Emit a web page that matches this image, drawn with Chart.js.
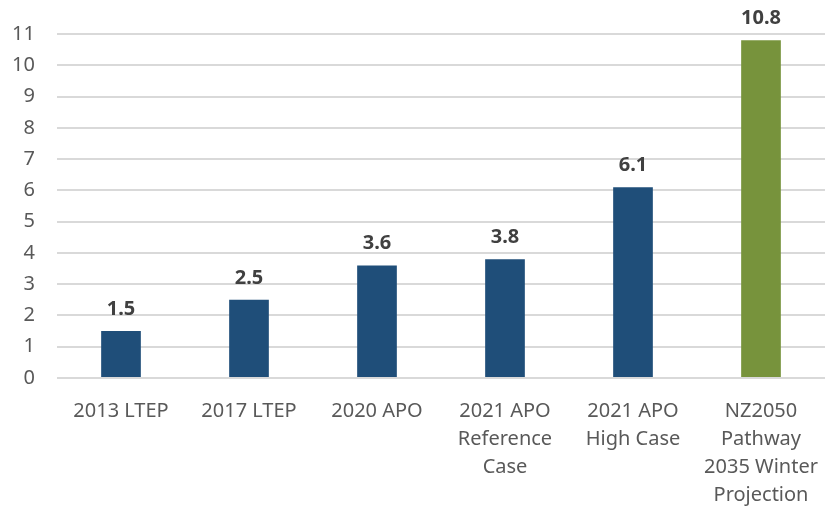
<!DOCTYPE html>
<html>
<head>
<meta charset="utf-8">
<script src="https://cdn.jsdelivr.net/npm/chart.js@4"></script>
<style>
  html, body { margin: 0; padding: 0; background: #fff; }
  #wrap { width: 825px; height: 508px; }
</style>
</head>
<body>
<div id="wrap"><canvas id="chart" width="825" height="508"></canvas></div>
<script>
const categories = [
  ['2013 LTEP'],
  ['2017 LTEP'],
  ['2020 APO'],
  ['2021 APO', 'Reference', 'Case'],
  ['2021 APO', 'High Case'],
  ['NZ2050', 'Pathway', '2035 Winter', 'Projection']
];
const values = [1.5, 2.5, 3.6, 3.8, 6.1, 10.8];
const barColors = ['#1F4E79', '#1F4E79', '#1F4E79', '#1F4E79', '#1F4E79', '#77933C'];
const yMin = 0, yMax = 11, yStep = 1;

// value labels above the bars
const valueLabels = {
  id: 'valueLabels',
  afterDatasetsDraw(chart) {
    const ctx = chart.ctx;
    const meta = chart.getDatasetMeta(0);
    ctx.save();
    ctx.font = 'bold 20px "Noto Sans"';
    ctx.fillStyle = '#404040';
    ctx.textAlign = 'center';
    ctx.textBaseline = 'middle';
    meta.data.forEach((bar, i) => {
      ctx.fillText(values[i].toFixed(1), bar.x, bar.y - 22);
    });
    ctx.restore();
  }
};

new Chart(document.getElementById('chart'), {
  type: 'bar',
  data: {
    labels: categories,
    datasets: [{
      data: values,
      backgroundColor: barColors,
      borderWidth: 0,
      barPercentage: 0.31,
      categoryPercentage: 1
    }]
  },
  options: {
    responsive: false,
    animation: false,
    layout: { padding: { top: 33, right: 0, left: 0, bottom: 0 } },
    plugins: { legend: { display: false }, tooltip: { enabled: false } },
    scales: {
      x: {
        grid: { display: false },
        border: { display: false },
        ticks: {
          color: '#595959',
          font: { family: 'Noto Sans', size: 20, lineHeight: 1.4 },
          padding: 11,
          maxRotation: 0,
          autoSkip: false
        },
        afterFit(scale) {
          scale.height = 130;
          scale.paddingLeft = 0;
          scale.paddingRight = 0;
        }
      },
      y: {
        min: yMin,
        max: yMax,
        grid: { color: '#D9D9D9', lineWidth: 2, drawTicks: false },
        border: { display: false },
        ticks: {
          stepSize: yStep,
          color: '#595959',
          font: { family: 'Noto Sans', size: 20 },
          padding: 22
        },
        afterFit(scale) { scale.width = 57; }
      }
    }
  },
  plugins: [valueLabels]
});
</script>
</body>
</html>
